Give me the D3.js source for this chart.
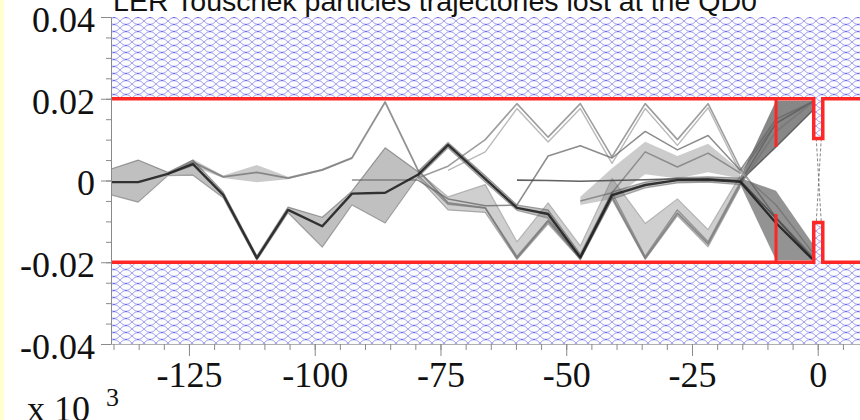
<!DOCTYPE html>
<html>
<head>
<meta charset="utf-8">
<script src="https://cdn.jsdelivr.net/npm/d3@7"></script>
<style>
  html, body { margin: 0; padding: 0; background: #ffffff; }
  svg { display: block; }
</style>
</head>
<body>
<svg id="chart" width="860" height="420"></svg>
<script>
// Lattice element positions along the ring (x 10^3), where trajectories bend
const sNodes = [-140.5, -135.1, -129.2, -124.2, -118.2, -111.5, -105.3, -98.5, -92.6, -86.0,
                -79.5, -73.5, -66.1, -59.8, -53.6, -47.2, -40.9, -34.3, -27.9, -21.8,
                -15.4, -8.3, -1.1];

// Main (darkest) bunch of lost particles: core path and envelope
const mainCore  = [-0.0004, -0.0004, 0.0016, 0.0040, -0.0035, -0.0190, -0.0072, -0.0112, -0.0032, -0.0030,
                    0.0014, 0.0087, 0.0004, -0.0067, -0.0082, -0.0188, -0.0036, -0.0011, 0.0001, 0.0002,
                   -0.0003, -0.0104, -0.0192];
const mainUpper = [0.0028, 0.0050, 0.0020, 0.0050, -0.0028, -0.0184, -0.0065, -0.0090, -0.0026, 0.0080,
                   0.0022, 0.0093, 0.0012, -0.0060, -0.0072, -0.0180, -0.0028, -0.0004, 0.0007, 0.0009,
                   0.0006, null, null];
const mainLower = [-0.0035, -0.0053, 0.0012, 0.0013, -0.0042, -0.0195, -0.0079, -0.0163, -0.0060, -0.0104,
                    0.0008, 0.0080, -0.0004, -0.0073, -0.0092, -0.0194, -0.0046, -0.0018, -0.0006, -0.0004,
                   -0.0010, null, null];

// Same bunch fanning down into the lower QD0 aperture
const lowFanUpper = [null, null, null, null, null, null, null, null, null, null,
                     null, null, null, null, null, null, null, null, null, null,
                     0.0006, -0.0025, -0.0153];
const lowFanLower = [null, null, null, null, null, null, null, null, null, null,
                     null, null, null, null, null, null, null, null, null, null,
                     -0.0010, -0.0195, -0.0196];

// Wide light bunch zig-zagging along the lower aperture
const wideCore  = [null, null, null, null, null, null, null, null, null, null,
                   0.0013, -0.0058, -0.0067, -0.0186, -0.0097, -0.0186, -0.0030, -0.0186, -0.0072, -0.0150,
                  -0.0004, 0.0140, 0.0192];
const wideUpper = [null, null, null, null, null, null, null, null, null, null,
                   0.0022, -0.0040, -0.0010, -0.0150, -0.0055, -0.0160, 0.0005, -0.0105, -0.0045, -0.0120,
                   0.0012, null, null];
const wideLower = [null, null, null, null, null, null, null, null, null, null,
                   0.0008, -0.0072, -0.0078, -0.0193, -0.0106, -0.0193, -0.0046, -0.0193, -0.0086, -0.0162,
                  -0.0016, null, null];

// Fan of the same particles opening up into the upper QD0 aperture
const fanUpper = [null, null, null, null, null, null, null, null, null, null,
                  null, null, null, null, null, null, null, null, null, null,
                  0.0008, 0.0195, 0.0195];
const fanLower = [null, null, null, null, null, null, null, null, null, null,
                  null, null, null, null, null, null, null, null, null, null,
                  -0.0002, 0.0082, 0.0170];

// Light bunch that leaves the main one early and peaks near the upper aperture
const loopCore  = [null, null, 0.0016, 0.0045, 0.0009, 0.0020, 0.0006, 0.0026, 0.0055, 0.0192,
                   0.0026, -0.0055, -0.0067, -0.0190, -0.0100, -0.0190, -0.0040, -0.0190, -0.0080, -0.0155,
                  -0.0010, 0.0120, 0.0190];
const loopUpper = [null, null, 0.0018, 0.0052, 0.0012, 0.0038, 0.0009, 0.0029, 0.0058, null,
                   null, null, null, null, null, null, null, null, null, null, null, null, null];
const loopLower = [null, null, 0.0014, 0.0034, 0.0006, -0.0004, 0.0003, 0.0023, 0.0052, null,
                   null, null, null, null, null, null, null, null, null, null, null, null, null];

// Thin trajectories bouncing along the upper aperture
const zigA = [null, null, null, null, null, null, null, null, null, null,
              0.0006, 0.0035, 0.0100, 0.0188, 0.0106, 0.0188, 0.0058, 0.0188, 0.0100, 0.0188,
              0.0030, -0.0090, -0.0185];
const zigB = [null, null, null, null, null, null, null, null, null, null,
              null, 0.0025, 0.0070, 0.0176, 0.0094, 0.0176, 0.0042, 0.0176, 0.0086, 0.0178,
              0.0020, -0.0060, -0.0175];

// Near-axis particles scattered part way round
const flatA = [null, null, null, null, null, null, null, null, 0.0001, 0.0001,
               0.0001, -0.0045, -0.0062, -0.0060, 0.0060, 0.0085, 0.0055, 0.0120, 0.0075, 0.0110,
               0.0025, 0.0150, 0.0192];
const flatB = [null, null, null, null, null, null, null, null, null, null,
               null, null, null, 0.0001, 0.0000, -0.0002, 0.0000, 0.0002, 0.0004, 0.0004,
               0.0000, -0.0092, -0.0190];

// Medium bunch in the last cells before the IR
const humpCore  = [null, null, null, null, null, null, null, null, null, null,
                   null, null, null, null, null, -0.0050, -0.0030, 0.0070, 0.0033, 0.0067,
                   0.0018, 0.0140, 0.0192];
const humpUpper = [null, null, null, null, null, null, null, null, null, null,
                   null, null, null, null, null, -0.0040, 0.0030, 0.0095, 0.0060, 0.0090,
                   0.0025, null, null];
const humpLower = [null, null, null, null, null, null, null, null, null, null,
                   null, null, null, null, null, -0.0060, -0.0045, 0.0015, 0.0005, 0.0020,
                   0.0005, null, null];

// Beam pipe aperture and QD0 entrance
const pipeHalf = 0.02;
const maskS = -8.3, maskHalf = 0.0082;
const qd0Start = -0.8, qd0End = 1.0, qd0Half = 0.0103;

// Axis ticks
const sMajor = [-125, -100, -75, -50, -25, 0];
const sMinor = d3.range(-140, 10, 5);
const yMajor = [0.04, 0.02, 0, -0.02, -0.04];
const yMajorLabels = ["0.04", "0.02", "0", "-0.02", "-0.04"];
const yMinor = d3.range(-0.04, 0.0401, 0.005);
const titleText = "LER Touschek particles trajectories lost at the QD0";

// ---------------------------------------------------------------------------
const svg = d3.select("#chart");
const plotL = 111, plotR = 860, plotT = 17, plotB = 344;
const x = d3.scaleLinear().domain([-140.5, 8.4]).range([plotL, plotR]);
const y = d3.scaleLinear().domain([-0.04, 0.04]).range([plotB, plotT]);

svg.append("rect").attr("width", 860).attr("height", 420).attr("fill", "#ffffff");
svg.append("rect").attr("width", 4).attr("height", 420).attr("fill", "#ffffd0");

const defs = svg.append("defs");
// fish-net hatching for the chamber walls
const pat = defs.append("pattern")
  .attr("id", "wallHatch").attr("patternUnits", "userSpaceOnUse")
  .attr("width", 12).attr("height", 7);
pat.append("rect").attr("width", 12).attr("height", 7).attr("fill", "#fcfcff");
pat.append("path")
  .attr("d", "M0,0 Q6,7 12,0 M0,7 Q6,0 12,7")
  .attr("stroke", "#8c8cec").attr("stroke-width", 0.8).attr("fill", "none");
pat.append("circle").attr("cx", 6).attr("cy", 3.5).attr("r", 0.7).attr("fill", "#5050d8");

defs.append("clipPath").attr("id", "plotClip")
  .append("rect").attr("x", plotL).attr("y", plotT).attr("width", plotR - plotL).attr("height", plotB - plotT);
defs.append("filter").attr("id", "soft")
  .append("feGaussianBlur").attr("stdDeviation", 0.45);

// Chamber walls
const walls = svg.append("g");
walls.append("rect").attr("x", plotL).attr("y", y(0.04)).attr("width", plotR - plotL)
  .attr("height", y(pipeHalf) - y(0.04)).attr("fill", "url(#wallHatch)");
walls.append("rect").attr("x", plotL).attr("y", y(-pipeHalf)).attr("width", plotR - plotL)
  .attr("height", y(-0.04) - y(-pipeHalf)).attr("fill", "url(#wallHatch)");
walls.append("rect").attr("x", x(qd0Start)).attr("y", y(pipeHalf))
  .attr("width", x(qd0End) - x(qd0Start)).attr("height", y(qd0Half) - y(pipeHalf))
  .attr("fill", "url(#wallHatch)");
walls.append("rect").attr("x", x(qd0Start)).attr("y", y(-qd0Half))
  .attr("width", x(qd0End) - x(qd0Start)).attr("height", y(-pipeHalf) - y(-qd0Half))
  .attr("fill", "url(#wallHatch)");

// Trajectories
const traj = svg.append("g").attr("clip-path", "url(#plotClip)")
  .append("g").attr("filter", "url(#soft)");
const band = (hi, lo) => d3.area()
  .defined((d, i) => hi[i] != null && lo[i] != null)
  .x((d, i) => x(sNodes[i])).y0((d, i) => y(lo[i])).y1((d, i) => y(hi[i]))(sNodes);
const path = arr => d3.line()
  .defined((d, i) => arr[i] != null)
  .x((d, i) => x(sNodes[i])).y((d, i) => y(arr[i]))(sNodes);

function drawBand(hi, lo, fill, op) {
  traj.append("path").attr("d", band(hi, lo)).attr("fill", fill).attr("fill-opacity", op);
}
function drawLine(arr, col, w, op) {
  traj.append("path").attr("d", path(arr)).attr("fill", "none")
    .attr("stroke", col).attr("stroke-width", w).attr("stroke-opacity", op)
    .attr("stroke-linejoin", "round");
}

drawBand(wideUpper, wideLower, "#8c8c8c", 0.42);
drawLine(wideUpper, "#a0a0a0", 1.2, 0.7);
drawLine(wideLower, "#909090", 1.2, 0.7);
drawLine(wideCore, "#7a7a7a", 1.5, 0.7);
drawBand(fanUpper, fanLower, "#4c4c4c", 0.68);
drawLine(fanLower, "#3a3a3a", 1.4, 0.7);

drawBand(humpUpper, humpLower, "#7f7f7f", 0.4);
drawLine(humpCore, "#606060", 1.5, 0.6);

drawLine(zigA, "#8c8c8c", 1.6, 0.85);
drawLine(zigB, "#a8a8a8", 1.4, 0.8);

drawBand(loopUpper, loopLower, "#8c8c8c", 0.45);
drawLine(loopCore, "#777777", 1.8, 0.8);

drawLine(flatA, "#666666", 1.5, 0.75);
drawLine(flatB, "#444444", 1.6, 0.85);

drawBand(mainUpper, mainLower, "#6a6a6a", 0.42);
drawLine(mainUpper, "#5a5a5a", 1.2, 0.55);
drawLine(mainLower, "#6a6a6a", 1.2, 0.55);
drawBand(lowFanUpper, lowFanLower, "#4c4c4c", 0.6);
drawLine(mainCore, "#1a1a1a", 2.4, 0.85);

// Particles reaching the final focus crossing at the IP
const ipCross = svg.append("g").attr("stroke", "#666").attr("stroke-width", 0.8)
  .attr("stroke-dasharray", "3,2").attr("fill", "none");
ipCross.append("line").attr("x1", x(-0.3)).attr("y1", y(qd0Half)).attr("x2", x(0.7)).attr("y2", y(-qd0Half));
ipCross.append("line").attr("x1", x(0.7)).attr("y1", y(qd0Half)).attr("x2", x(-0.3)).attr("y2", y(-qd0Half));

// Aperture outline in red
const red = "#ff2626";
const wallLine = s => d3.line()([
  [x(-140.5), y(s * pipeHalf)], [x(qd0Start), y(s * pipeHalf)], [x(qd0Start), y(s * qd0Half)],
  [x(qd0End), y(s * qd0Half)], [x(qd0End), y(s * pipeHalf)], [x(8.4), y(s * pipeHalf)]
]);
svg.append("path").attr("d", wallLine(1)).attr("fill", "none").attr("stroke", red).attr("stroke-width", 3.5);
svg.append("path").attr("d", wallLine(-1)).attr("fill", "none").attr("stroke", red).attr("stroke-width", 3.5);
svg.append("line").attr("x1", x(maskS)).attr("x2", x(maskS)).attr("y1", y(pipeHalf)).attr("y2", y(maskHalf))
  .attr("stroke", red).attr("stroke-width", 3);
svg.append("line").attr("x1", x(maskS)).attr("x2", x(maskS)).attr("y1", y(-maskHalf)).attr("y2", y(-pipeHalf))
  .attr("stroke", red).attr("stroke-width", 3);

// Axes
const axisFont = "'Liberation Serif', 'Times New Roman', serif";
function styleAxis(g) {
  g.selectAll("path.domain").attr("stroke", "#8a8a8a");
  g.selectAll(".tick line").attr("stroke", "#8a8a8a");
  g.selectAll(".tick text").attr("fill", "#111").style("font-family", axisFont).style("font-size", "36px");
}
const yMinorAxis = svg.append("g").attr("transform", `translate(${plotL},0)`)
  .call(d3.axisLeft(y).tickValues(yMinor).tickSize(5).tickSizeOuter(0).tickFormat(""));
styleAxis(yMinorAxis);
const yAxis = svg.append("g").attr("transform", `translate(${plotL},0)`)
  .call(d3.axisLeft(y).tickValues(yMajor).tickSize(10).tickSizeOuter(0).tickPadding(6)
    .tickFormat((d, i) => yMajorLabels[i]));
styleAxis(yAxis);
yAxis.selectAll(".tick text").attr("dy", "0.4em");

const xMinorAxis = svg.append("g").attr("transform", `translate(0,${plotB})`)
  .call(d3.axisBottom(x).tickValues(sMinor).tickSize(6).tickSizeOuter(0).tickFormat(""));
styleAxis(xMinorAxis);
xMinorAxis.select("path.domain").attr("stroke", "#b0b0b0");
const xAxis = svg.append("g").attr("transform", `translate(0,${plotB})`)
  .call(d3.axisBottom(x).tickValues(sMajor).tickSize(12).tickSizeOuter(0).tickPadding(5)
    .tickFormat(d => String(d)));
styleAxis(xAxis);
xAxis.select("path.domain").remove();

// Scale factor for the s axis
svg.append("text").attr("x", 27).attr("y", 421)
  .style("font-family", axisFont).style("font-size", "36px").attr("fill", "#111").text("x 10");
svg.append("text").attr("x", 106).attr("y", 406)
  .style("font-family", axisFont).style("font-size", "26px").attr("fill", "#111").text("3");

// Title
svg.append("text").attr("x", 113).attr("y", 11)
  .attr("textLength", 644).attr("lengthAdjust", "spacingAndGlyphs")
  .style("font-family", "'Liberation Sans', Arial, sans-serif").style("font-size", "28px")
  .attr("fill", "#111").text(titleText);
</script>
</body>
</html>
